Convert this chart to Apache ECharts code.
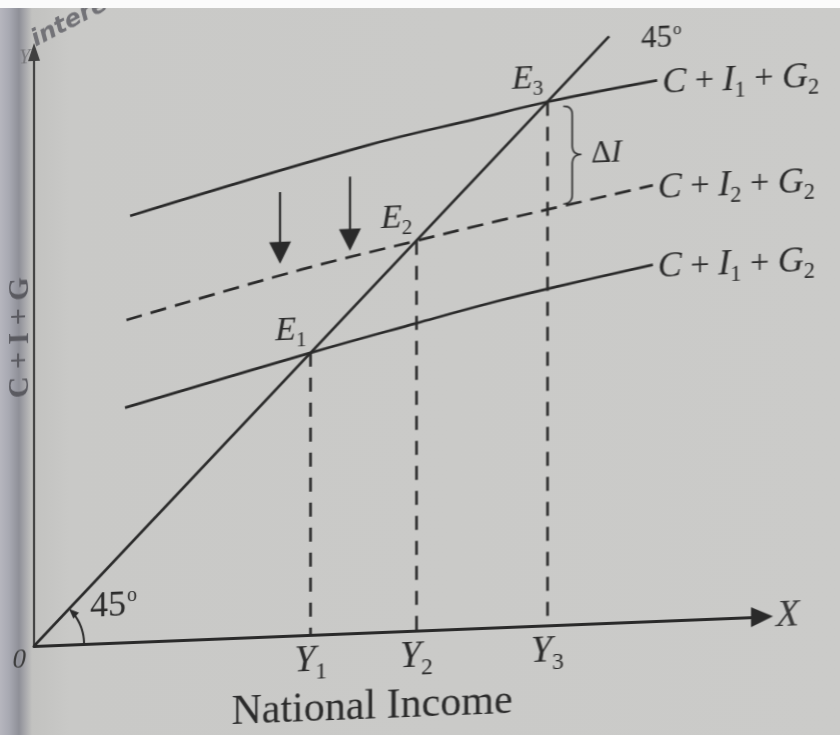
<!DOCTYPE html>
<html>
<head>
<meta charset="utf-8">
<title>Income determination: C + I + G and the 45° line</title>
<script src="https://cdn.jsdelivr.net/npm/echarts@6/dist/echarts.min.js"></script>
<style>
  html, body { margin: 0; padding: 0; width: 840px; height: 735px; overflow: hidden; }
  body { position: relative; background: #c8c8c6; }
  #paper {
    position: absolute; left: 0; top: 0; width: 840px; height: 735px;
    background: linear-gradient(to right, #b6b6be 0px, #a8a9b2 9px, #8f9098 19px, #a7a7ab 25px, #c2c2c0 32px, #c9c9c7 70px, #cbcbc9 100%);
  }
  /* the printed page is photographed slightly askew: the axes rise to the right */
  #chart {
    position: absolute; left: 0; top: 0; width: 840px; height: 790px;
    transform-origin: 34px 646px; transform: skewY(-2.3deg);
  }
  #edge { position: absolute; left: 0; top: 0; width: 840px; height: 8px; background: #fbfbfb; }
</style>
</head>
<body>
<div id="paper"></div>
<div id="chart"></div>
<div id="edge"></div>
<script>
// ---- data (national income on x, aggregate demand C + I + G on y) ----
const xMax = 100;
const yMax = 80;
const incomeLevels = [38, 52.5, 70.5];            // Y1, Y2, Y3 (equilibria lie on the 45° line)
const incomeNames = ['Y1', 'Y2', 'Y3'];
const equilibriumNames = ['E1', 'E2', 'E3'];
const guideEnd = 79;                               // end of the 45° line
const demandLow  = [[12.5, 31.6], [38, 38], [52.5, 41.4], [63.5, 43.9], [72, 45.6], [85, 48.0]];
const demandMid  = [[12.7, 43.4], [36.5, 49.2], [52.5, 52.5], [63.5, 54.7], [70.5, 56.0], [85, 58.7]];
const demandHigh = [[13.2, 57.4], [45.7, 65.6], [61.3, 68.7], [70.5, 70.5], [85.6, 72.8]];
const demandNames = ['C + I1 + G2', 'C + I2 + G2', 'C + I1 + G2'];  // low, mid, high
const shiftArrows = [[33.8, 59.8, 51.6], [43.4, 61.5, 53.0]];     // x, from, to

const INK = '#2a2a2a';
const SERIF = '"Liberation Serif", "DejaVu Serif", serif';

// Letters italic, digits as subscripts, everything else upright.
function richText(str) {
  let out = '';
  for (const ch of str) {
    if (/[A-Za-z]/.test(ch)) out += '{i|' + ch + '}';
    else if (/[0-9]/.test(ch)) out += '{s|' + ch + '}';
    else if (ch === ' ') out += '{o| }';
    else out += '{o|' + ch + '}';
  }
  return out;
}
function richStyles(size, color) {
  return {
    i: { fontFamily: SERIF, fontStyle: 'italic', fontSize: size, color: color },
    o: { fontFamily: SERIF, fontSize: size * 0.95, color: color },
    s: { fontFamily: SERIF, fontSize: size * 0.62, color: color, padding: [size * 0.6, 0, 0, 0] }
  };
}

const chart = echarts.init(document.getElementById('chart'), null, { renderer: 'canvas' });

const demandSeries = [demandLow, demandMid, demandHigh].map((pts, k) => ({
  type: 'line',
  data: pts,
  smooth: 0.4,
  symbol: 'none',
  lineStyle: { color: INK, width: 2.7, type: k === 1 ? [16, 9] : 'solid' },
  endLabel: {
    show: true, distance: 5, color: INK, offset: [0, 3],
    formatter: () => richText(demandNames[k]),
    rich: richStyles(36, INK)
  },
  z: 3
}));

chart.setOption({
  animation: false,
  backgroundColor: 'transparent',
  grid: { left: 34, right: 78, top: 52, bottom: 144, outerBoundsMode: 'none' },
  xAxis: [{
    type: 'value', min: 0, max: xMax,
    axisLine: { show: true, lineStyle: { color: INK, width: 3 }, symbol: ['none', 'triangle'], symbolSize: [20, 22] },
    axisTick: { show: false },
    splitLine: { show: false },
    axisLabel: {
      show: true, margin: 3,
      customValues: incomeLevels,
      formatter: (v) => richText(incomeNames[incomeLevels.findIndex(x => Math.abs(x - v) < 1e-6)] || ''),
      rich: richStyles(38, INK)
    },
    name: 'X', nameLocation: 'end', nameGap: 14,
    nameTextStyle: { fontFamily: SERIF, fontStyle: 'italic', fontSize: 38, color: '#3a3a3a', verticalAlign: 'middle' }
  }, {
    type: 'value', min: 0, max: xMax, position: 'bottom',
    axisLine: { show: false }, axisTick: { show: false }, axisLabel: { show: false }, splitLine: { show: false },
    name: 'National Income', nameLocation: 'middle', nameGap: 54,
    nameTextStyle: { fontFamily: SERIF, fontSize: 42, color: INK, padding: [0, 52, 0, 0] }
  }],
  yAxis: [{
    type: 'value', min: 0, max: yMax,
    axisLine: { show: true, lineStyle: { color: '#404040', width: 2.2 }, symbol: ['none', 'triangle'], symbolSize: [12, 18] },
    axisTick: { show: false },
    splitLine: { show: false },
    axisLabel: {
      show: true, customValues: [0], formatter: '0', margin: 8, verticalAlign: 'top',
      fontFamily: SERIF, fontStyle: 'italic', fontSize: 27, color: '#3a3a3a'
    }
  }, {
    type: 'value', min: 0, max: yMax, position: 'left',
    axisLine: { show: false }, axisTick: { show: false }, axisLabel: { show: false }, splitLine: { show: false },
    name: 'Y', nameLocation: 'end', nameGap: -6,
    nameTextStyle: { fontFamily: SERIF, fontStyle: 'italic', fontSize: 20, color: '#77777b', align: 'right', verticalAlign: 'middle', padding: [0, 4, 0, 0] }
  }],
  series: [
    {
      // the 45° line: aggregate demand equals income
      type: 'line',
      data: [[0, 0], [guideEnd, guideEnd]],
      symbol: 'none',
      lineStyle: { color: INK, width: 2.7 },
      endLabel: {
        show: true, distance: 4, offset: [28, 4], color: INK,
        formatter: '{n|45}{d|o}',
        rich: {
          n: { fontFamily: SERIF, fontSize: 31, color: INK },
          d: { fontFamily: SERIF, fontSize: 17, color: INK, padding: [0, 0, 16, 1] }
        }
      },
      z: 3
    },
    ...demandSeries,
    {
      // drop lines from each equilibrium to the income axis
      type: 'lines', coordinateSystem: 'cartesian2d',
      data: incomeLevels.map(x => ({ coords: [[x, x], [x, 0]] })),
      symbol: 'none',
      lineStyle: { color: INK, width: 2.6, type: [14, 11], opacity: 1 },
      z: 2
    },
    {
      // downward shift of the investment schedule
      type: 'lines', coordinateSystem: 'cartesian2d',
      data: shiftArrows.map(([x, y0, y1]) => ({ coords: [[x, y0], [x, y1]] })),
      symbol: ['none', 'triangle'], symbolSize: [18, 22],
      lineStyle: { color: INK, width: 2.2, opacity: 1 },
      z: 4
    },
    {
      type: 'scatter',
      data: incomeLevels.map(x => [x, x]),
      symbolSize: 0,
      itemStyle: { color: INK, opacity: 1 },
      label: {
        show: true, position: 'left', distance: 4, offset: [0, -23], color: INK, opacity: 1,
        formatter: (p) => richText(equilibriumNames[p.dataIndex]),
        rich: richStyles(34, INK)
      },
      z: 5
    }
  ]
});

// ---- annotations placed from data coordinates ----
const px = (p) => chart.convertToPixel({ xAxisIndex: 0, yAxisIndex: 0 }, p);

function quad(p0, c, p1, n) {
  const pts = [];
  for (let i = 0; i <= n; i++) {
    const t = i / n, u = 1 - t;
    pts.push([u * u * p0[0] + 2 * u * t * c[0] + t * t * p1[0], u * u * p0[1] + 2 * u * t * c[1] + t * t * p1[1]]);
  }
  return pts;
}

// curly brace marking the investment gap at Y3
const x3 = incomeLevels[2];
const topAt = demandHigh.find(p => p[0] === x3)[1];
const midAt = demandMid.find(p => p[0] === x3)[1];
const [bx, bTop] = px([x3, topAt]);
const [, bBot] = px([x3, midAt]);
const b0 = bx + 16, bw = 18, xm = b0 + bw * 0.5, rr = 9;
const yA = bTop + 5, yB = bBot - 5, yM = (yA + yB) / 2;
const bracePts = [].concat(
  quad([b0, yA], [xm, yA], [xm, yA + rr], 8),
  quad([xm, yM - rr], [xm, yM], [b0 + bw, yM], 8),
  quad([b0 + bw, yM], [xm, yM], [xm, yM + rr], 8),
  quad([xm, yB - rr], [xm, yB], [b0, yB], 8)
);

// 45° arc at the origin with its arrowhead
const [ox, oy] = px([0, 0]);
const [gx, gy] = px([10, 10]);
const theta = Math.atan2(oy - gy, gx - ox);
const R = 50;
const tipX = ox + R * Math.cos(theta), tipY = oy - R * Math.sin(theta);
const dir = [-Math.sin(theta), -Math.cos(theta)];
const nrm = [-dir[1], dir[0]];
const L = 10, W = 8;
const baseX = tipX - dir[0] * L, baseY = tipY - dir[1] * L;
const arcPts = [];
for (let i = 0; i <= 30; i++) {
  const a = (theta - 0.12) * i / 30;
  arcPts.push([ox + R * Math.cos(a), oy - R * Math.sin(a)]);
}
const [nx, ny] = px([0, yMax / 2]);

chart.setOption({
  graphic: [
    {
      type: 'polyline', shape: { points: bracePts },
      style: { fill: null, stroke: INK, lineWidth: 1.6 }, z: 10
    },
    {
      type: 'text', x: b0 + bw + 10, y: yM,
      style: {
        text: '{o|Δ}{i|I}', verticalAlign: 'middle', align: 'left',
        rich: {
          o: { fontFamily: SERIF, fontSize: 31, fill: INK },
          i: { fontFamily: SERIF, fontStyle: 'italic', fontSize: 31, fill: INK }
        }
      }, z: 10
    },
    {
      type: 'polyline', shape: { points: arcPts },
      style: { fill: null, stroke: INK, lineWidth: 2 }, z: 10
    },
    {
      type: 'polygon',
      shape: { points: [[tipX, tipY], [baseX + nrm[0] * W / 2, baseY + nrm[1] * W / 2], [baseX - nrm[0] * W / 2, baseY - nrm[1] * W / 2]] },
      style: { fill: INK }, z: 10
    },
    {
      type: 'text', x: ox + 56, y: oy - 36,
      style: {
        text: '{n|45}{d|o}', verticalAlign: 'middle', align: 'left',
        rich: {
          n: { fontFamily: SERIF, fontSize: 36, fill: INK },
          d: { fontFamily: SERIF, fontSize: 20, fill: INK, padding: [0, 0, 20, 1] }
        }
      }, z: 10
    },
    {
      // vertical axis title
      type: 'text', x: nx - 14, y: ny - 12, rotation: Math.PI / 2,
      style: { text: 'C + I + G', fontFamily: SERIF, fontSize: 30, fontWeight: 'bold', fill: '#5a5a60', align: 'center', verticalAlign: 'middle' },
      z: 6
    },
    {
      type: 'text', x: 38, y: 52, rotation: 0.45,
      style: { text: 'interest', fontFamily: '"DejaVu Sans", sans-serif', fontStyle: 'italic', fontWeight: 'bold', fontSize: 24, fill: '#727277', verticalAlign: 'bottom', align: 'left' },
      z: 1
    }
  ]
});
</script>
</body>
</html>
